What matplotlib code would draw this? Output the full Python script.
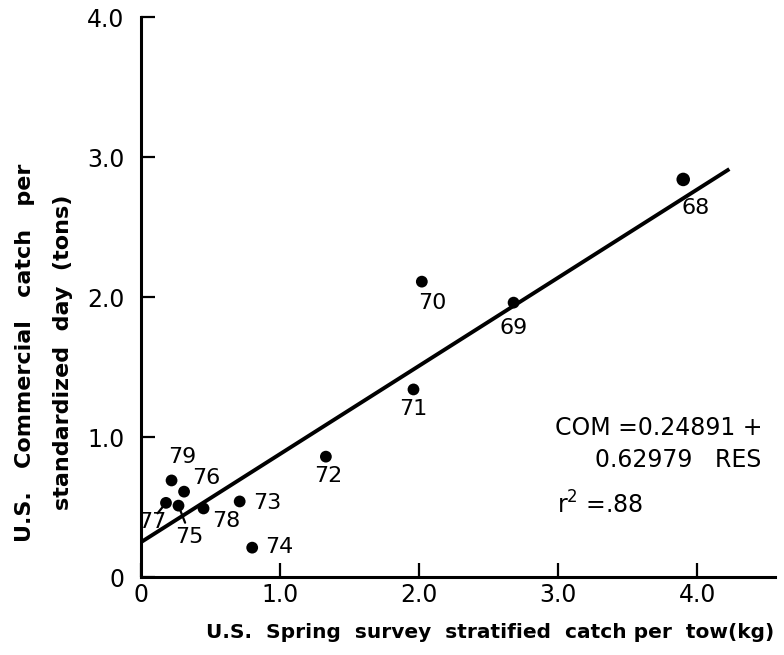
import numpy as np
import matplotlib.pyplot as plt

plt.rcParams['font.family'] = ['DejaVu Sans']

# survey index (kg per tow) vs commercial catch per standardized day (tons)
years = ['68', '69', '70', '71', '72', '73', '74', '75', '76', '77', '78', '79']
res = [3.90, 2.68, 2.02, 1.96, 1.33, 0.71, 0.80, 0.27, 0.31, 0.18, 0.45, 0.22]
com = [2.84, 1.96, 2.11, 1.34, 0.86, 0.54, 0.21, 0.51, 0.61, 0.53, 0.49, 0.69]

# regression fit
intercept = 0.24891
slope = 0.62979
r2 = 0.88

# label offsets from each dot (pixels)
label_dx = [12, 0, 10, 0, 2, 28, 27, 11, 22, -14, 23, 11]
label_dy = [-29, -25, -21, -20, -19, -2, 1, -31, 14, -19, -13, 23]

ticks = [0, 1, 2, 3, 4]
tick_labels = ['0', '1.0', '2.0', '3.0', '4.0']

fig = plt.figure(figsize=(7.84, 6.55), dpi=100)
ax = fig.add_axes([0.1798, 0.119, 0.8087, 0.855])
ax.set_xlim(0, 4.56)
ax.set_ylim(0, 4.0)

for side in ['top', 'right']:
    ax.spines[side].set_visible(False)
for side in ['left', 'bottom']:
    ax.spines[side].set_linewidth(2.2)

ax.set_xticks(ticks)
ax.set_xticklabels(tick_labels)
ax.set_yticks(ticks)
ax.set_yticklabels(tick_labels)
ax.tick_params(direction='in', length=10, width=1.6, labelsize=17)
ax.tick_params(axis='x', pad=4)
ax.tick_params(axis='y', pad=12)

xs = np.array([0, 4.22])
ax.plot(xs, intercept + slope * xs, color='black', lw=2.8, zorder=2)

sizes = [95] + [72] * (len(years) - 1)
ax.scatter(res, com, s=sizes, color='black', linewidths=0, zorder=3)

for i, yr in enumerate(years):
    ax.annotate(yr, (res[i], com[i]), xytext=(label_dx[i], label_dy[i]),
                textcoords='offset pixels', ha='center', va='center',
                fontsize=16)

# leader lines for the crowded labels near the origin
for yr in ['75', '77']:
    i = years.index(yr)
    ax.annotate('', (res[i], com[i]), xytext=(label_dx[i] * 0.6, label_dy[i] * 0.55),
                textcoords='offset pixels',
                arrowprops=dict(arrowstyle='-', lw=1.6, color='black',
                                shrinkA=0, shrinkB=4))

fig.text(555 / 784, (655 - 428) / 655, 'COM =0.24891 +',
         fontsize=17, va='center', ha='left')
fig.text(595 / 784, (655 - 460) / 655, '0.62979   RES',
         fontsize=17, va='center', ha='left')
fig.text(557 / 784, (655 - 505) / 655, 'r$^2$ =.88',
         fontsize=17, va='center', ha='left')

fig.text(25 / 784, (655 - 353) / 655, 'U.S.   Commercial   catch   per', rotation=90,
         fontsize=16, fontweight='bold', ha='center', va='center')
fig.text(63 / 784, (655 - 352) / 655, 'standardized  day  (tons)', rotation=90,
         fontsize=16, fontweight='bold', ha='center', va='center')
fig.text(490 / 784, (655 - 632) / 655, 'U.S.  Spring  survey  stratified  catch per  tow(kg)',
         fontsize=14.5, fontweight='bold', ha='center', va='center')

fig.savefig('out.png', dpi=100)
